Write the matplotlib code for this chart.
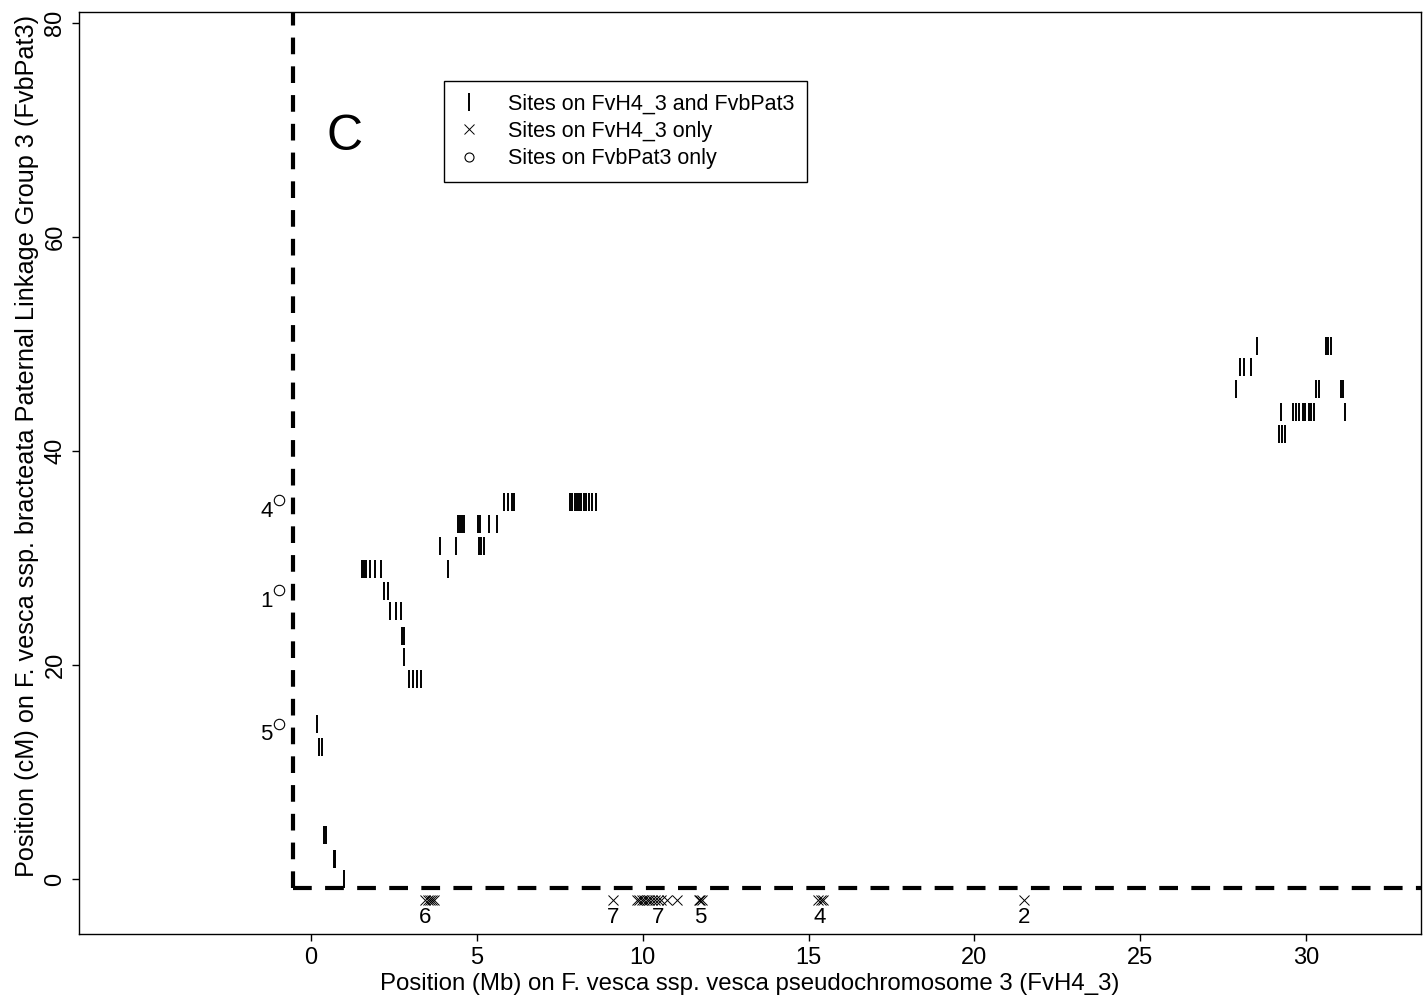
import matplotlib
matplotlib.use("Agg")
import matplotlib.pyplot as plt
from matplotlib.lines import Line2D

plt.rcParams['font.family'] = ['Liberation Sans', 'DejaVu Sans']

# sites mapped on both FvH4_3 and FvbPat3: one cM row -> Mb positions
shared_cm = [49.8, 47.8, 45.8, 43.6, 41.6,
             35.2, 33.2, 31.1, 29.0, 26.9, 25.0, 22.7, 20.7, 18.7,
             14.5, 12.3, 4.1, 1.9, 0.0]
shared_mb = [
    [28.53, 30.6, 30.68, 30.75],
    [28.02, 28.12, 28.33],
    [27.88, 30.3, 30.4, 31.05, 31.12],
    [29.25, 29.62, 29.7, 29.8, 29.9, 29.98, 30.08, 30.15, 30.25, 31.18],
    [29.18, 29.28, 29.38],
    [5.82, 5.93, 6.05, 6.12, 7.82, 7.88, 7.95, 8.02, 8.08, 8.15, 8.22, 8.3, 8.38, 8.47, 8.58],
    [4.42, 4.48, 4.55, 4.62, 5.02, 5.08, 5.37, 5.6],
    [3.89, 4.37, 5.07, 5.13, 5.2],
    [1.54, 1.6, 1.66, 1.78, 1.93, 2.11, 4.13],
    [2.2, 2.32],
    [2.38, 2.55, 2.7],
    [2.74, 2.8],
    [2.8],
    [2.96, 3.08, 3.2, 3.32],
    [0.18],
    [0.25, 0.32],
    [0.4, 0.45],
    [0.68, 0.72],
    [0.99],
]

# sites only on FvH4_3 (drawn below the map line)
cross_mb = [3.45, 3.52, 3.58, 3.65, 3.72,
            9.1,
            9.82, 9.9, 9.97, 10.05, 10.12, 10.2, 10.28, 10.36, 10.45, 10.55, 10.74, 11.04,
            11.7, 11.74, 11.78,
            15.3, 15.38, 15.45,
            21.5]
cross_lab_mb = [3.45, 9.1, 10.45, 11.75, 15.35, 21.5]
cross_lab = ['6', '7', '7', '5', '4', '2']

# sites only on FvbPat3
circ_cm = [35.4, 27.0, 14.5]
circ_lab = ['4', '1', '5']

fig = plt.figure(figsize=(14.25, 10.05), dpi=100)
ax = fig.add_axes([0.0554, 0.0706, 0.9418, 0.9174])

for cm, mbs in zip(shared_cm, shared_mb):
    ax.plot(mbs, [cm] * len(mbs), ls='none', marker='|', ms=13, mew=1.4, color='black')

ax.plot(cross_mb, [-2.0] * len(cross_mb), ls='none', marker='x', ms=6.5, mew=0.7, color='black')
for x, t in zip(cross_lab_mb, cross_lab):
    ax.annotate(t, (x, -2.0), xytext=(0, -12), textcoords='offset points',
                ha='center', va='center', fontsize=16)

ax.plot([-0.97] * len(circ_cm), circ_cm, ls='none', marker='o', ms=7.5, mew=0.8,
        mfc='white', mec='black')
for y, t in zip(circ_cm, circ_lab):
    ax.annotate(t, (-0.97, y), xytext=(-9, -8), textcoords='offset points',
                ha='center', va='center', fontsize=16)

# dashed borders of the map
ax.plot([-0.55, -0.55], [-0.85, 90], color='black', lw=3, ls=(0, (4, 2.9)))
ax.plot([-0.55, 40], [-0.85, -0.85], color='black', lw=3, ls=(0, (4.5, 3.2)))

ax.text(1.0, 69.3, 'C', fontsize=36, ha='center', va='center')

handles = [
    Line2D([], [], ls='none', marker='|', ms=13, mew=1.4, color='black'),
    Line2D([], [], ls='none', marker='x', ms=6.5, mew=0.7, color='black'),
    Line2D([], [], ls='none', marker='o', ms=6.5, mew=0.8, mfc='white', mec='black'),
]
labels = ['Sites on FvH4_3 and FvbPat3', 'Sites on FvH4_3 only', 'Sites on FvbPat3 only']
leg = ax.legend(handles, labels, loc='upper left', bbox_to_anchor=(4.0, 74.6),
                bbox_transform=ax.transData, borderaxespad=0, fontsize=15.5,
                fancybox=False, framealpha=1, edgecolor='black', borderpad=0.6,
                handlelength=1.15, handletextpad=1.23, labelspacing=0.3)
leg.get_frame().set_linewidth(1.0)

ax.set_xlim(-7.0, 33.47)
ax.set_ylim(-5.14, 81.0)
ax.set_xticks([0, 5, 10, 15, 20, 25, 30])
ax.set_yticks([0, 20, 40, 60, 80])
ax.tick_params(labelsize=17, length=5, width=1, pad=4)
for lab in ax.get_yticklabels():
    lab.set_rotation(90)
    lab.set_va('center')
for s in ax.spines.values():
    s.set_linewidth(1.0)

ax.set_xlabel('Position (Mb) on F. vesca ssp. vesca pseudochromosome 3 (FvH4_3)', fontsize=17.3, labelpad=3)
ax.set_ylabel('Position (cM) on F. vesca ssp. bracteata Paternal Linkage Group 3 (FvbPat3)', fontsize=18.2)
ax.yaxis.set_label_coords(-0.030, 0.529)

fig.savefig('out.png', dpi=100)
